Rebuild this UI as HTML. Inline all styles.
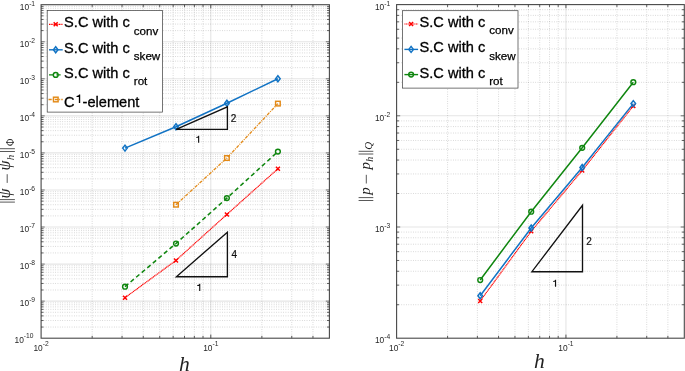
<!DOCTYPE html>
<html><head><meta charset="utf-8"><title>chart</title>
<style>html,body{margin:0;padding:0;background:#fff}svg{display:block;will-change:transform;-webkit-font-smoothing:antialiased}</style></head>
<body>
<svg width="685" height="371" viewBox="0 0 685 371" font-family="Liberation Sans, sans-serif">
<rect width="685" height="371" fill="#fff"/>
<line x1="92.18" y1="4.7" x2="92.18" y2="338.2" stroke="#262626" stroke-opacity="0.36" stroke-width="0.6" stroke-dasharray="0.8 1.55"/>
<line x1="122.06" y1="4.7" x2="122.06" y2="338.2" stroke="#262626" stroke-opacity="0.36" stroke-width="0.6" stroke-dasharray="0.8 1.55"/>
<line x1="143.26" y1="4.7" x2="143.26" y2="338.2" stroke="#262626" stroke-opacity="0.36" stroke-width="0.6" stroke-dasharray="0.8 1.55"/>
<line x1="159.71" y1="4.7" x2="159.71" y2="338.2" stroke="#262626" stroke-opacity="0.36" stroke-width="0.6" stroke-dasharray="0.8 1.55"/>
<line x1="173.15" y1="4.7" x2="173.15" y2="338.2" stroke="#262626" stroke-opacity="0.36" stroke-width="0.6" stroke-dasharray="0.8 1.55"/>
<line x1="184.51" y1="4.7" x2="184.51" y2="338.2" stroke="#262626" stroke-opacity="0.36" stroke-width="0.6" stroke-dasharray="0.8 1.55"/>
<line x1="194.35" y1="4.7" x2="194.35" y2="338.2" stroke="#262626" stroke-opacity="0.36" stroke-width="0.6" stroke-dasharray="0.8 1.55"/>
<line x1="203.03" y1="4.7" x2="203.03" y2="338.2" stroke="#262626" stroke-opacity="0.36" stroke-width="0.6" stroke-dasharray="0.8 1.55"/>
<line x1="261.87" y1="4.7" x2="261.87" y2="338.2" stroke="#262626" stroke-opacity="0.36" stroke-width="0.6" stroke-dasharray="0.8 1.55"/>
<line x1="291.75" y1="4.7" x2="291.75" y2="338.2" stroke="#262626" stroke-opacity="0.36" stroke-width="0.6" stroke-dasharray="0.8 1.55"/>
<line x1="312.96" y1="4.7" x2="312.96" y2="338.2" stroke="#262626" stroke-opacity="0.36" stroke-width="0.6" stroke-dasharray="0.8 1.55"/>
<line x1="41.1" y1="327.05" x2="329.4" y2="327.05" stroke="#262626" stroke-opacity="0.36" stroke-width="0.6" stroke-dasharray="0.8 1.55"/>
<line x1="41.1" y1="320.52" x2="329.4" y2="320.52" stroke="#262626" stroke-opacity="0.36" stroke-width="0.6" stroke-dasharray="0.8 1.55"/>
<line x1="41.1" y1="315.89" x2="329.4" y2="315.89" stroke="#262626" stroke-opacity="0.36" stroke-width="0.6" stroke-dasharray="0.8 1.55"/>
<line x1="41.1" y1="312.30" x2="329.4" y2="312.30" stroke="#262626" stroke-opacity="0.36" stroke-width="0.6" stroke-dasharray="0.8 1.55"/>
<line x1="41.1" y1="309.37" x2="329.4" y2="309.37" stroke="#262626" stroke-opacity="0.36" stroke-width="0.6" stroke-dasharray="0.8 1.55"/>
<line x1="41.1" y1="306.88" x2="329.4" y2="306.88" stroke="#262626" stroke-opacity="0.36" stroke-width="0.6" stroke-dasharray="0.8 1.55"/>
<line x1="41.1" y1="304.74" x2="329.4" y2="304.74" stroke="#262626" stroke-opacity="0.36" stroke-width="0.6" stroke-dasharray="0.8 1.55"/>
<line x1="41.1" y1="302.84" x2="329.4" y2="302.84" stroke="#262626" stroke-opacity="0.36" stroke-width="0.6" stroke-dasharray="0.8 1.55"/>
<line x1="41.1" y1="289.99" x2="329.4" y2="289.99" stroke="#262626" stroke-opacity="0.36" stroke-width="0.6" stroke-dasharray="0.8 1.55"/>
<line x1="41.1" y1="283.46" x2="329.4" y2="283.46" stroke="#262626" stroke-opacity="0.36" stroke-width="0.6" stroke-dasharray="0.8 1.55"/>
<line x1="41.1" y1="278.83" x2="329.4" y2="278.83" stroke="#262626" stroke-opacity="0.36" stroke-width="0.6" stroke-dasharray="0.8 1.55"/>
<line x1="41.1" y1="275.24" x2="329.4" y2="275.24" stroke="#262626" stroke-opacity="0.36" stroke-width="0.6" stroke-dasharray="0.8 1.55"/>
<line x1="41.1" y1="272.31" x2="329.4" y2="272.31" stroke="#262626" stroke-opacity="0.36" stroke-width="0.6" stroke-dasharray="0.8 1.55"/>
<line x1="41.1" y1="269.83" x2="329.4" y2="269.83" stroke="#262626" stroke-opacity="0.36" stroke-width="0.6" stroke-dasharray="0.8 1.55"/>
<line x1="41.1" y1="267.68" x2="329.4" y2="267.68" stroke="#262626" stroke-opacity="0.36" stroke-width="0.6" stroke-dasharray="0.8 1.55"/>
<line x1="41.1" y1="265.78" x2="329.4" y2="265.78" stroke="#262626" stroke-opacity="0.36" stroke-width="0.6" stroke-dasharray="0.8 1.55"/>
<line x1="41.1" y1="252.93" x2="329.4" y2="252.93" stroke="#262626" stroke-opacity="0.36" stroke-width="0.6" stroke-dasharray="0.8 1.55"/>
<line x1="41.1" y1="246.41" x2="329.4" y2="246.41" stroke="#262626" stroke-opacity="0.36" stroke-width="0.6" stroke-dasharray="0.8 1.55"/>
<line x1="41.1" y1="241.78" x2="329.4" y2="241.78" stroke="#262626" stroke-opacity="0.36" stroke-width="0.6" stroke-dasharray="0.8 1.55"/>
<line x1="41.1" y1="238.19" x2="329.4" y2="238.19" stroke="#262626" stroke-opacity="0.36" stroke-width="0.6" stroke-dasharray="0.8 1.55"/>
<line x1="41.1" y1="235.25" x2="329.4" y2="235.25" stroke="#262626" stroke-opacity="0.36" stroke-width="0.6" stroke-dasharray="0.8 1.55"/>
<line x1="41.1" y1="232.77" x2="329.4" y2="232.77" stroke="#262626" stroke-opacity="0.36" stroke-width="0.6" stroke-dasharray="0.8 1.55"/>
<line x1="41.1" y1="230.62" x2="329.4" y2="230.62" stroke="#262626" stroke-opacity="0.36" stroke-width="0.6" stroke-dasharray="0.8 1.55"/>
<line x1="41.1" y1="228.73" x2="329.4" y2="228.73" stroke="#262626" stroke-opacity="0.36" stroke-width="0.6" stroke-dasharray="0.8 1.55"/>
<line x1="41.1" y1="215.88" x2="329.4" y2="215.88" stroke="#262626" stroke-opacity="0.36" stroke-width="0.6" stroke-dasharray="0.8 1.55"/>
<line x1="41.1" y1="209.35" x2="329.4" y2="209.35" stroke="#262626" stroke-opacity="0.36" stroke-width="0.6" stroke-dasharray="0.8 1.55"/>
<line x1="41.1" y1="204.72" x2="329.4" y2="204.72" stroke="#262626" stroke-opacity="0.36" stroke-width="0.6" stroke-dasharray="0.8 1.55"/>
<line x1="41.1" y1="201.13" x2="329.4" y2="201.13" stroke="#262626" stroke-opacity="0.36" stroke-width="0.6" stroke-dasharray="0.8 1.55"/>
<line x1="41.1" y1="198.20" x2="329.4" y2="198.20" stroke="#262626" stroke-opacity="0.36" stroke-width="0.6" stroke-dasharray="0.8 1.55"/>
<line x1="41.1" y1="195.72" x2="329.4" y2="195.72" stroke="#262626" stroke-opacity="0.36" stroke-width="0.6" stroke-dasharray="0.8 1.55"/>
<line x1="41.1" y1="193.57" x2="329.4" y2="193.57" stroke="#262626" stroke-opacity="0.36" stroke-width="0.6" stroke-dasharray="0.8 1.55"/>
<line x1="41.1" y1="191.67" x2="329.4" y2="191.67" stroke="#262626" stroke-opacity="0.36" stroke-width="0.6" stroke-dasharray="0.8 1.55"/>
<line x1="41.1" y1="178.82" x2="329.4" y2="178.82" stroke="#262626" stroke-opacity="0.36" stroke-width="0.6" stroke-dasharray="0.8 1.55"/>
<line x1="41.1" y1="172.30" x2="329.4" y2="172.30" stroke="#262626" stroke-opacity="0.36" stroke-width="0.6" stroke-dasharray="0.8 1.55"/>
<line x1="41.1" y1="167.67" x2="329.4" y2="167.67" stroke="#262626" stroke-opacity="0.36" stroke-width="0.6" stroke-dasharray="0.8 1.55"/>
<line x1="41.1" y1="164.08" x2="329.4" y2="164.08" stroke="#262626" stroke-opacity="0.36" stroke-width="0.6" stroke-dasharray="0.8 1.55"/>
<line x1="41.1" y1="161.14" x2="329.4" y2="161.14" stroke="#262626" stroke-opacity="0.36" stroke-width="0.6" stroke-dasharray="0.8 1.55"/>
<line x1="41.1" y1="158.66" x2="329.4" y2="158.66" stroke="#262626" stroke-opacity="0.36" stroke-width="0.6" stroke-dasharray="0.8 1.55"/>
<line x1="41.1" y1="156.51" x2="329.4" y2="156.51" stroke="#262626" stroke-opacity="0.36" stroke-width="0.6" stroke-dasharray="0.8 1.55"/>
<line x1="41.1" y1="154.62" x2="329.4" y2="154.62" stroke="#262626" stroke-opacity="0.36" stroke-width="0.6" stroke-dasharray="0.8 1.55"/>
<line x1="41.1" y1="141.77" x2="329.4" y2="141.77" stroke="#262626" stroke-opacity="0.36" stroke-width="0.6" stroke-dasharray="0.8 1.55"/>
<line x1="41.1" y1="135.24" x2="329.4" y2="135.24" stroke="#262626" stroke-opacity="0.36" stroke-width="0.6" stroke-dasharray="0.8 1.55"/>
<line x1="41.1" y1="130.61" x2="329.4" y2="130.61" stroke="#262626" stroke-opacity="0.36" stroke-width="0.6" stroke-dasharray="0.8 1.55"/>
<line x1="41.1" y1="127.02" x2="329.4" y2="127.02" stroke="#262626" stroke-opacity="0.36" stroke-width="0.6" stroke-dasharray="0.8 1.55"/>
<line x1="41.1" y1="124.09" x2="329.4" y2="124.09" stroke="#262626" stroke-opacity="0.36" stroke-width="0.6" stroke-dasharray="0.8 1.55"/>
<line x1="41.1" y1="121.61" x2="329.4" y2="121.61" stroke="#262626" stroke-opacity="0.36" stroke-width="0.6" stroke-dasharray="0.8 1.55"/>
<line x1="41.1" y1="119.46" x2="329.4" y2="119.46" stroke="#262626" stroke-opacity="0.36" stroke-width="0.6" stroke-dasharray="0.8 1.55"/>
<line x1="41.1" y1="117.56" x2="329.4" y2="117.56" stroke="#262626" stroke-opacity="0.36" stroke-width="0.6" stroke-dasharray="0.8 1.55"/>
<line x1="41.1" y1="104.71" x2="329.4" y2="104.71" stroke="#262626" stroke-opacity="0.36" stroke-width="0.6" stroke-dasharray="0.8 1.55"/>
<line x1="41.1" y1="98.19" x2="329.4" y2="98.19" stroke="#262626" stroke-opacity="0.36" stroke-width="0.6" stroke-dasharray="0.8 1.55"/>
<line x1="41.1" y1="93.56" x2="329.4" y2="93.56" stroke="#262626" stroke-opacity="0.36" stroke-width="0.6" stroke-dasharray="0.8 1.55"/>
<line x1="41.1" y1="89.97" x2="329.4" y2="89.97" stroke="#262626" stroke-opacity="0.36" stroke-width="0.6" stroke-dasharray="0.8 1.55"/>
<line x1="41.1" y1="87.03" x2="329.4" y2="87.03" stroke="#262626" stroke-opacity="0.36" stroke-width="0.6" stroke-dasharray="0.8 1.55"/>
<line x1="41.1" y1="84.55" x2="329.4" y2="84.55" stroke="#262626" stroke-opacity="0.36" stroke-width="0.6" stroke-dasharray="0.8 1.55"/>
<line x1="41.1" y1="82.40" x2="329.4" y2="82.40" stroke="#262626" stroke-opacity="0.36" stroke-width="0.6" stroke-dasharray="0.8 1.55"/>
<line x1="41.1" y1="80.51" x2="329.4" y2="80.51" stroke="#262626" stroke-opacity="0.36" stroke-width="0.6" stroke-dasharray="0.8 1.55"/>
<line x1="41.1" y1="67.66" x2="329.4" y2="67.66" stroke="#262626" stroke-opacity="0.36" stroke-width="0.6" stroke-dasharray="0.8 1.55"/>
<line x1="41.1" y1="61.13" x2="329.4" y2="61.13" stroke="#262626" stroke-opacity="0.36" stroke-width="0.6" stroke-dasharray="0.8 1.55"/>
<line x1="41.1" y1="56.50" x2="329.4" y2="56.50" stroke="#262626" stroke-opacity="0.36" stroke-width="0.6" stroke-dasharray="0.8 1.55"/>
<line x1="41.1" y1="52.91" x2="329.4" y2="52.91" stroke="#262626" stroke-opacity="0.36" stroke-width="0.6" stroke-dasharray="0.8 1.55"/>
<line x1="41.1" y1="49.98" x2="329.4" y2="49.98" stroke="#262626" stroke-opacity="0.36" stroke-width="0.6" stroke-dasharray="0.8 1.55"/>
<line x1="41.1" y1="47.50" x2="329.4" y2="47.50" stroke="#262626" stroke-opacity="0.36" stroke-width="0.6" stroke-dasharray="0.8 1.55"/>
<line x1="41.1" y1="45.35" x2="329.4" y2="45.35" stroke="#262626" stroke-opacity="0.36" stroke-width="0.6" stroke-dasharray="0.8 1.55"/>
<line x1="41.1" y1="43.45" x2="329.4" y2="43.45" stroke="#262626" stroke-opacity="0.36" stroke-width="0.6" stroke-dasharray="0.8 1.55"/>
<line x1="41.1" y1="30.60" x2="329.4" y2="30.60" stroke="#262626" stroke-opacity="0.36" stroke-width="0.6" stroke-dasharray="0.8 1.55"/>
<line x1="41.1" y1="24.08" x2="329.4" y2="24.08" stroke="#262626" stroke-opacity="0.36" stroke-width="0.6" stroke-dasharray="0.8 1.55"/>
<line x1="41.1" y1="19.45" x2="329.4" y2="19.45" stroke="#262626" stroke-opacity="0.36" stroke-width="0.6" stroke-dasharray="0.8 1.55"/>
<line x1="41.1" y1="15.85" x2="329.4" y2="15.85" stroke="#262626" stroke-opacity="0.36" stroke-width="0.6" stroke-dasharray="0.8 1.55"/>
<line x1="41.1" y1="12.92" x2="329.4" y2="12.92" stroke="#262626" stroke-opacity="0.36" stroke-width="0.6" stroke-dasharray="0.8 1.55"/>
<line x1="41.1" y1="10.44" x2="329.4" y2="10.44" stroke="#262626" stroke-opacity="0.36" stroke-width="0.6" stroke-dasharray="0.8 1.55"/>
<line x1="41.1" y1="8.29" x2="329.4" y2="8.29" stroke="#262626" stroke-opacity="0.36" stroke-width="0.6" stroke-dasharray="0.8 1.55"/>
<line x1="41.1" y1="6.40" x2="329.4" y2="6.40" stroke="#262626" stroke-opacity="0.36" stroke-width="0.6" stroke-dasharray="0.8 1.55"/>
<line x1="210.79" y1="4.7" x2="210.79" y2="338.2" stroke="#262626" stroke-opacity="0.12" stroke-width="1.1"/>
<line x1="41.1" y1="301.14" x2="329.4" y2="301.14" stroke="#262626" stroke-opacity="0.12" stroke-width="1.1"/>
<line x1="41.1" y1="264.09" x2="329.4" y2="264.09" stroke="#262626" stroke-opacity="0.12" stroke-width="1.1"/>
<line x1="41.1" y1="227.03" x2="329.4" y2="227.03" stroke="#262626" stroke-opacity="0.12" stroke-width="1.1"/>
<line x1="41.1" y1="189.98" x2="329.4" y2="189.98" stroke="#262626" stroke-opacity="0.12" stroke-width="1.1"/>
<line x1="41.1" y1="152.92" x2="329.4" y2="152.92" stroke="#262626" stroke-opacity="0.12" stroke-width="1.1"/>
<line x1="41.1" y1="115.87" x2="329.4" y2="115.87" stroke="#262626" stroke-opacity="0.12" stroke-width="1.1"/>
<line x1="41.1" y1="78.81" x2="329.4" y2="78.81" stroke="#262626" stroke-opacity="0.12" stroke-width="1.1"/>
<line x1="41.1" y1="41.76" x2="329.4" y2="41.76" stroke="#262626" stroke-opacity="0.12" stroke-width="1.1"/>
<path d="M125.00 297.70L176.00 260.40L226.90 214.40L277.90 168.80" stroke="#ff0000" stroke-width="1.2" fill="none" stroke-dasharray="1.15 0.5"/>
<path d="M123.00 295.70L127.00 299.70M123.00 299.70L127.00 295.70" stroke="#ff0000" stroke-width="1.45" fill="none"/>
<path d="M174.00 258.40L178.00 262.40M174.00 262.40L178.00 258.40" stroke="#ff0000" stroke-width="1.45" fill="none"/>
<path d="M224.90 212.40L228.90 216.40M224.90 216.40L228.90 212.40" stroke="#ff0000" stroke-width="1.45" fill="none"/>
<path d="M275.90 166.80L279.90 170.80M275.90 170.80L279.90 166.80" stroke="#ff0000" stroke-width="1.45" fill="none"/>
<path d="M125.00 148.10L176.00 126.70L226.90 103.30L277.90 78.70" stroke="#1173c4" stroke-width="1.5" fill="none"/>
<path d="M125.00 145.10L127.30 148.10L125.00 151.10L122.70 148.10Z" stroke="#1173c4" stroke-width="1.45" fill="none"/>
<path d="M176.00 123.70L178.30 126.70L176.00 129.70L173.70 126.70Z" stroke="#1173c4" stroke-width="1.45" fill="none"/>
<path d="M226.90 100.30L229.20 103.30L226.90 106.30L224.60 103.30Z" stroke="#1173c4" stroke-width="1.45" fill="none"/>
<path d="M277.90 75.70L280.20 78.70L277.90 81.70L275.60 78.70Z" stroke="#1173c4" stroke-width="1.45" fill="none"/>
<path d="M125.00 286.70L176.00 243.50L226.90 198.10L277.90 151.60" stroke="#0f860f" stroke-width="1.55" fill="none" stroke-dasharray="4.3 3.0"/>
<circle cx="125.00" cy="286.70" r="2.40" stroke="#0f860f" stroke-width="1.45" fill="none"/>
<circle cx="176.00" cy="243.50" r="2.40" stroke="#0f860f" stroke-width="1.45" fill="none"/>
<circle cx="226.90" cy="198.10" r="2.40" stroke="#0f860f" stroke-width="1.45" fill="none"/>
<circle cx="277.90" cy="151.60" r="2.40" stroke="#0f860f" stroke-width="1.45" fill="none"/>
<path d="M176.00 204.70L226.90 158.00L277.90 103.60" stroke="#e38a17" stroke-width="1.3" fill="none" stroke-dasharray="3.2 1.1 1.0 1.1"/>
<rect x="173.70" y="202.40" width="4.60" height="4.60" stroke="#e38a17" stroke-width="1.45" fill="none"/>
<rect x="224.60" y="155.70" width="4.60" height="4.60" stroke="#e38a17" stroke-width="1.45" fill="none"/>
<rect x="275.60" y="101.30" width="4.60" height="4.60" stroke="#e38a17" stroke-width="1.45" fill="none"/>
<path d="M176.2 129.4H227.4V106.9Z" stroke="#111" stroke-width="1.35" fill="none" stroke-linejoin="miter"/>
<text x="233.6" y="121.7" font-size="10" text-anchor="middle" fill="#111" stroke="#111" stroke-width="0.2">2</text>
<path d="M199.20 142.80L199.20 135.70L198.40 135.70Q197.95 136.85 196.15 137.00L196.15 137.80L198.08 137.80L198.08 142.80Z" fill="#111"/>
<path d="M176.4 276.7H227.4V232.2Z" stroke="#111" stroke-width="1.35" fill="none"/>
<text x="234.2" y="257.5" font-size="10" text-anchor="middle" fill="#111" stroke="#111" stroke-width="0.2">4</text>
<path d="M200.30 290.90L200.30 283.80L199.50 283.80Q199.05 284.95 197.25 285.10L197.25 285.90L199.18 285.90L199.18 290.90Z" fill="#111"/>
<rect x="41.1" y="4.7" width="288.29999999999995" height="333.5" fill="none" stroke="#484848" stroke-width="1.1"/>
<path d="M210.79 338.2v-3.6M210.79 4.7v3.6" stroke="#3a3a3a" stroke-width="0.85"/>
<path d="M92.18 338.2v-2.4M92.18 4.7v2.4" stroke="#3a3a3a" stroke-width="0.8"/>
<path d="M122.06 338.2v-2.4M122.06 4.7v2.4" stroke="#3a3a3a" stroke-width="0.8"/>
<path d="M143.26 338.2v-2.4M143.26 4.7v2.4" stroke="#3a3a3a" stroke-width="0.8"/>
<path d="M159.71 338.2v-2.4M159.71 4.7v2.4" stroke="#3a3a3a" stroke-width="0.8"/>
<path d="M173.15 338.2v-2.4M173.15 4.7v2.4" stroke="#3a3a3a" stroke-width="0.8"/>
<path d="M184.51 338.2v-2.4M184.51 4.7v2.4" stroke="#3a3a3a" stroke-width="0.8"/>
<path d="M194.35 338.2v-2.4M194.35 4.7v2.4" stroke="#3a3a3a" stroke-width="0.8"/>
<path d="M203.03 338.2v-2.4M203.03 4.7v2.4" stroke="#3a3a3a" stroke-width="0.8"/>
<path d="M261.87 338.2v-2.4M261.87 4.7v2.4" stroke="#3a3a3a" stroke-width="0.8"/>
<path d="M291.75 338.2v-2.4M291.75 4.7v2.4" stroke="#3a3a3a" stroke-width="0.8"/>
<path d="M312.96 338.2v-2.4M312.96 4.7v2.4" stroke="#3a3a3a" stroke-width="0.8"/>
<path d="M41.1 301.14h3.6M329.4 301.14h-3.6" stroke="#3a3a3a" stroke-width="0.7"/>
<path d="M41.1 264.09h3.6M329.4 264.09h-3.6" stroke="#3a3a3a" stroke-width="0.7"/>
<path d="M41.1 227.03h3.6M329.4 227.03h-3.6" stroke="#3a3a3a" stroke-width="0.7"/>
<path d="M41.1 189.98h3.6M329.4 189.98h-3.6" stroke="#3a3a3a" stroke-width="0.7"/>
<path d="M41.1 152.92h3.6M329.4 152.92h-3.6" stroke="#3a3a3a" stroke-width="0.7"/>
<path d="M41.1 115.87h3.6M329.4 115.87h-3.6" stroke="#3a3a3a" stroke-width="0.7"/>
<path d="M41.1 78.81h3.6M329.4 78.81h-3.6" stroke="#3a3a3a" stroke-width="0.7"/>
<path d="M41.1 41.76h3.6M329.4 41.76h-3.6" stroke="#3a3a3a" stroke-width="0.7"/>
<path d="M41.1 327.05h2.4M329.4 327.05h-2.4" stroke="#3a3a3a" stroke-width="0.8"/>
<path d="M41.1 320.52h2.4M329.4 320.52h-2.4" stroke="#3a3a3a" stroke-width="0.8"/>
<path d="M41.1 315.89h2.4M329.4 315.89h-2.4" stroke="#3a3a3a" stroke-width="0.8"/>
<path d="M41.1 312.30h2.4M329.4 312.30h-2.4" stroke="#3a3a3a" stroke-width="0.8"/>
<path d="M41.1 309.37h2.4M329.4 309.37h-2.4" stroke="#3a3a3a" stroke-width="0.8"/>
<path d="M41.1 306.88h2.4M329.4 306.88h-2.4" stroke="#3a3a3a" stroke-width="0.8"/>
<path d="M41.1 304.74h2.4M329.4 304.74h-2.4" stroke="#3a3a3a" stroke-width="0.8"/>
<path d="M41.1 302.84h2.4M329.4 302.84h-2.4" stroke="#3a3a3a" stroke-width="0.8"/>
<path d="M41.1 289.99h2.4M329.4 289.99h-2.4" stroke="#3a3a3a" stroke-width="0.8"/>
<path d="M41.1 283.46h2.4M329.4 283.46h-2.4" stroke="#3a3a3a" stroke-width="0.8"/>
<path d="M41.1 278.83h2.4M329.4 278.83h-2.4" stroke="#3a3a3a" stroke-width="0.8"/>
<path d="M41.1 275.24h2.4M329.4 275.24h-2.4" stroke="#3a3a3a" stroke-width="0.8"/>
<path d="M41.1 272.31h2.4M329.4 272.31h-2.4" stroke="#3a3a3a" stroke-width="0.8"/>
<path d="M41.1 269.83h2.4M329.4 269.83h-2.4" stroke="#3a3a3a" stroke-width="0.8"/>
<path d="M41.1 267.68h2.4M329.4 267.68h-2.4" stroke="#3a3a3a" stroke-width="0.8"/>
<path d="M41.1 265.78h2.4M329.4 265.78h-2.4" stroke="#3a3a3a" stroke-width="0.8"/>
<path d="M41.1 252.93h2.4M329.4 252.93h-2.4" stroke="#3a3a3a" stroke-width="0.8"/>
<path d="M41.1 246.41h2.4M329.4 246.41h-2.4" stroke="#3a3a3a" stroke-width="0.8"/>
<path d="M41.1 241.78h2.4M329.4 241.78h-2.4" stroke="#3a3a3a" stroke-width="0.8"/>
<path d="M41.1 238.19h2.4M329.4 238.19h-2.4" stroke="#3a3a3a" stroke-width="0.8"/>
<path d="M41.1 235.25h2.4M329.4 235.25h-2.4" stroke="#3a3a3a" stroke-width="0.8"/>
<path d="M41.1 232.77h2.4M329.4 232.77h-2.4" stroke="#3a3a3a" stroke-width="0.8"/>
<path d="M41.1 230.62h2.4M329.4 230.62h-2.4" stroke="#3a3a3a" stroke-width="0.8"/>
<path d="M41.1 228.73h2.4M329.4 228.73h-2.4" stroke="#3a3a3a" stroke-width="0.8"/>
<path d="M41.1 215.88h2.4M329.4 215.88h-2.4" stroke="#3a3a3a" stroke-width="0.8"/>
<path d="M41.1 209.35h2.4M329.4 209.35h-2.4" stroke="#3a3a3a" stroke-width="0.8"/>
<path d="M41.1 204.72h2.4M329.4 204.72h-2.4" stroke="#3a3a3a" stroke-width="0.8"/>
<path d="M41.1 201.13h2.4M329.4 201.13h-2.4" stroke="#3a3a3a" stroke-width="0.8"/>
<path d="M41.1 198.20h2.4M329.4 198.20h-2.4" stroke="#3a3a3a" stroke-width="0.8"/>
<path d="M41.1 195.72h2.4M329.4 195.72h-2.4" stroke="#3a3a3a" stroke-width="0.8"/>
<path d="M41.1 193.57h2.4M329.4 193.57h-2.4" stroke="#3a3a3a" stroke-width="0.8"/>
<path d="M41.1 191.67h2.4M329.4 191.67h-2.4" stroke="#3a3a3a" stroke-width="0.8"/>
<path d="M41.1 178.82h2.4M329.4 178.82h-2.4" stroke="#3a3a3a" stroke-width="0.8"/>
<path d="M41.1 172.30h2.4M329.4 172.30h-2.4" stroke="#3a3a3a" stroke-width="0.8"/>
<path d="M41.1 167.67h2.4M329.4 167.67h-2.4" stroke="#3a3a3a" stroke-width="0.8"/>
<path d="M41.1 164.08h2.4M329.4 164.08h-2.4" stroke="#3a3a3a" stroke-width="0.8"/>
<path d="M41.1 161.14h2.4M329.4 161.14h-2.4" stroke="#3a3a3a" stroke-width="0.8"/>
<path d="M41.1 158.66h2.4M329.4 158.66h-2.4" stroke="#3a3a3a" stroke-width="0.8"/>
<path d="M41.1 156.51h2.4M329.4 156.51h-2.4" stroke="#3a3a3a" stroke-width="0.8"/>
<path d="M41.1 154.62h2.4M329.4 154.62h-2.4" stroke="#3a3a3a" stroke-width="0.8"/>
<path d="M41.1 141.77h2.4M329.4 141.77h-2.4" stroke="#3a3a3a" stroke-width="0.8"/>
<path d="M41.1 135.24h2.4M329.4 135.24h-2.4" stroke="#3a3a3a" stroke-width="0.8"/>
<path d="M41.1 130.61h2.4M329.4 130.61h-2.4" stroke="#3a3a3a" stroke-width="0.8"/>
<path d="M41.1 127.02h2.4M329.4 127.02h-2.4" stroke="#3a3a3a" stroke-width="0.8"/>
<path d="M41.1 124.09h2.4M329.4 124.09h-2.4" stroke="#3a3a3a" stroke-width="0.8"/>
<path d="M41.1 121.61h2.4M329.4 121.61h-2.4" stroke="#3a3a3a" stroke-width="0.8"/>
<path d="M41.1 119.46h2.4M329.4 119.46h-2.4" stroke="#3a3a3a" stroke-width="0.8"/>
<path d="M41.1 117.56h2.4M329.4 117.56h-2.4" stroke="#3a3a3a" stroke-width="0.8"/>
<path d="M41.1 104.71h2.4M329.4 104.71h-2.4" stroke="#3a3a3a" stroke-width="0.8"/>
<path d="M41.1 98.19h2.4M329.4 98.19h-2.4" stroke="#3a3a3a" stroke-width="0.8"/>
<path d="M41.1 93.56h2.4M329.4 93.56h-2.4" stroke="#3a3a3a" stroke-width="0.8"/>
<path d="M41.1 89.97h2.4M329.4 89.97h-2.4" stroke="#3a3a3a" stroke-width="0.8"/>
<path d="M41.1 87.03h2.4M329.4 87.03h-2.4" stroke="#3a3a3a" stroke-width="0.8"/>
<path d="M41.1 84.55h2.4M329.4 84.55h-2.4" stroke="#3a3a3a" stroke-width="0.8"/>
<path d="M41.1 82.40h2.4M329.4 82.40h-2.4" stroke="#3a3a3a" stroke-width="0.8"/>
<path d="M41.1 80.51h2.4M329.4 80.51h-2.4" stroke="#3a3a3a" stroke-width="0.8"/>
<path d="M41.1 67.66h2.4M329.4 67.66h-2.4" stroke="#3a3a3a" stroke-width="0.8"/>
<path d="M41.1 61.13h2.4M329.4 61.13h-2.4" stroke="#3a3a3a" stroke-width="0.8"/>
<path d="M41.1 56.50h2.4M329.4 56.50h-2.4" stroke="#3a3a3a" stroke-width="0.8"/>
<path d="M41.1 52.91h2.4M329.4 52.91h-2.4" stroke="#3a3a3a" stroke-width="0.8"/>
<path d="M41.1 49.98h2.4M329.4 49.98h-2.4" stroke="#3a3a3a" stroke-width="0.8"/>
<path d="M41.1 47.50h2.4M329.4 47.50h-2.4" stroke="#3a3a3a" stroke-width="0.8"/>
<path d="M41.1 45.35h2.4M329.4 45.35h-2.4" stroke="#3a3a3a" stroke-width="0.8"/>
<path d="M41.1 43.45h2.4M329.4 43.45h-2.4" stroke="#3a3a3a" stroke-width="0.8"/>
<path d="M41.1 30.60h2.4M329.4 30.60h-2.4" stroke="#3a3a3a" stroke-width="0.8"/>
<path d="M41.1 24.08h2.4M329.4 24.08h-2.4" stroke="#3a3a3a" stroke-width="0.8"/>
<path d="M41.1 19.45h2.4M329.4 19.45h-2.4" stroke="#3a3a3a" stroke-width="0.8"/>
<path d="M41.1 15.85h2.4M329.4 15.85h-2.4" stroke="#3a3a3a" stroke-width="0.8"/>
<path d="M41.1 12.92h2.4M329.4 12.92h-2.4" stroke="#3a3a3a" stroke-width="0.8"/>
<path d="M41.1 10.44h2.4M329.4 10.44h-2.4" stroke="#3a3a3a" stroke-width="0.8"/>
<path d="M41.1 8.29h2.4M329.4 8.29h-2.4" stroke="#3a3a3a" stroke-width="0.8"/>
<path d="M41.1 6.40h2.4M329.4 6.40h-2.4" stroke="#3a3a3a" stroke-width="0.8"/>
<text x="19.8" y="9.9" text-anchor="start" font-size="8.4" fill="#262626">10<tspan dy="-4.3" font-size="6.7">-1</tspan></text>
<text x="19.8" y="47.0" text-anchor="start" font-size="8.4" fill="#262626">10<tspan dy="-4.3" font-size="6.7">-2</tspan></text>
<text x="19.8" y="84.0" text-anchor="start" font-size="8.4" fill="#262626">10<tspan dy="-4.3" font-size="6.7">-3</tspan></text>
<text x="19.8" y="121.1" text-anchor="start" font-size="8.4" fill="#262626">10<tspan dy="-4.3" font-size="6.7">-4</tspan></text>
<text x="19.8" y="158.1" text-anchor="start" font-size="8.4" fill="#262626">10<tspan dy="-4.3" font-size="6.7">-5</tspan></text>
<text x="19.8" y="195.2" text-anchor="start" font-size="8.4" fill="#262626">10<tspan dy="-4.3" font-size="6.7">-6</tspan></text>
<text x="19.8" y="232.2" text-anchor="start" font-size="8.4" fill="#262626">10<tspan dy="-4.3" font-size="6.7">-7</tspan></text>
<text x="19.8" y="269.3" text-anchor="start" font-size="8.4" fill="#262626">10<tspan dy="-4.3" font-size="6.7">-8</tspan></text>
<text x="19.8" y="306.3" text-anchor="start" font-size="8.4" fill="#262626">10<tspan dy="-4.3" font-size="6.7">-9</tspan></text>
<text x="14.5" y="342.7" text-anchor="start" font-size="8.4" fill="#262626">10<tspan dy="-4.3" font-size="6.7">-10</tspan></text>
<text x="33.4" y="350.5" text-anchor="start" font-size="8.4" fill="#262626">10<tspan dy="-4.3" font-size="6.7">-2</tspan></text>
<text x="203.2" y="350.5" text-anchor="start" font-size="8.4" fill="#262626">10<tspan dy="-4.3" font-size="6.7">-1</tspan></text>
<rect x="47.2" y="10.6" width="115.4" height="101.5" fill="#fff" stroke="#3a3a3a" stroke-width="0.7"/>
<path d="M49.0 24.3h13.7" stroke="#ff0000" stroke-width="1.2" stroke-dasharray="1.15 0.5"/>
<path d="M53.70 22.30L57.70 26.30M53.70 26.30L57.70 22.30" stroke="#ff0000" stroke-width="1.45" fill="none"/>
<text x="64.1" y="27.3" font-size="14.6" fill="#000" stroke="#000" stroke-width="0.3">S.C with c</text>
<text x="133.8" y="34.7" font-size="11.6" fill="#000" stroke="#000" stroke-width="0.25">conv</text>
<path d="M49.0 49.8h13.7" stroke="#1173c4" stroke-width="1.4"/>
<path d="M55.70 46.80L58.00 49.80L55.70 52.80L53.40 49.80Z" stroke="#1173c4" stroke-width="1.45" fill="none"/>
<text x="64.1" y="52.8" font-size="14.6" fill="#000" stroke="#000" stroke-width="0.3">S.C with c</text>
<text x="133.8" y="60.199999999999996" font-size="11.6" fill="#000" stroke="#000" stroke-width="0.25">skew</text>
<path d="M49.0 74.9h13.7" stroke="#0f860f" stroke-width="1.4" stroke-dasharray="4.2 3.2"/>
<circle cx="55.70" cy="74.90" r="2.40" stroke="#0f860f" stroke-width="1.45" fill="none"/>
<text x="64.1" y="77.9" font-size="14.6" fill="#000" stroke="#000" stroke-width="0.3">S.C with c</text>
<text x="133.8" y="85.30000000000001" font-size="11.6" fill="#000" stroke="#000" stroke-width="0.25">rot</text>
<path d="M48.5 99.5h14.2" stroke="#e38a17" stroke-width="1.3" stroke-dasharray="3.2 1.1 1.0 1.1"/>
<rect x="53.50" y="97.20" width="4.60" height="4.60" stroke="#e38a17" stroke-width="1.45" fill="none"/>
<text x="64.1" y="107.4" font-size="14.6" fill="#000" stroke="#000" stroke-width="0.3">C</text>
<path d="M80.20 102.90L80.20 94.38L79.24 94.38Q78.70 95.76 76.54 95.94L76.54 96.90L78.86 96.90L78.86 102.90Z" fill="#000"/>
<text x="82.6" y="107.4" font-size="14.6" fill="#000" stroke="#000" stroke-width="0.3">-element</text>
<g transform="translate(11.4 204) rotate(-90)">
<path d="M1.9 -11.4V3.5M4.4 -11.4V3.5" stroke="#222" stroke-width="0.75" fill="none"/>
<text x="5.6" y="-1.1" font-family="Liberation Serif, serif" font-style="italic" font-size="16" fill="#222">ψ</text>
<path d="M21.1 -4.2H29.8" stroke="#222" stroke-width="0.75"/>
<text x="33.4" y="-1.1" font-family="Liberation Serif, serif" font-style="italic" font-size="16" fill="#222">ψ</text>
<text x="43.8" y="2.2" font-family="Liberation Serif, serif" font-style="italic" font-size="11" fill="#222">h</text>
<path d="M52.5 -11.4V3.5M55.3 -11.4V3.5" stroke="#222" stroke-width="0.75" fill="none"/>
<text transform="translate(57.9 2.4) scale(0.84 1)" font-family="Liberation Serif, serif" font-style="normal" font-size="12" fill="#222">Φ</text>
</g>
<text x="179.0" y="371.1" font-family="Liberation Serif, serif" font-style="italic" font-size="21.5" fill="#222">h</text>
<line x1="447.58" y1="4.6" x2="447.58" y2="338.2" stroke="#262626" stroke-opacity="0.36" stroke-width="0.6" stroke-dasharray="0.8 1.55"/>
<line x1="477.39" y1="4.6" x2="477.39" y2="338.2" stroke="#262626" stroke-opacity="0.36" stroke-width="0.6" stroke-dasharray="0.8 1.55"/>
<line x1="498.55" y1="4.6" x2="498.55" y2="338.2" stroke="#262626" stroke-opacity="0.36" stroke-width="0.6" stroke-dasharray="0.8 1.55"/>
<line x1="514.96" y1="4.6" x2="514.96" y2="338.2" stroke="#262626" stroke-opacity="0.36" stroke-width="0.6" stroke-dasharray="0.8 1.55"/>
<line x1="528.37" y1="4.6" x2="528.37" y2="338.2" stroke="#262626" stroke-opacity="0.36" stroke-width="0.6" stroke-dasharray="0.8 1.55"/>
<line x1="539.71" y1="4.6" x2="539.71" y2="338.2" stroke="#262626" stroke-opacity="0.36" stroke-width="0.6" stroke-dasharray="0.8 1.55"/>
<line x1="549.53" y1="4.6" x2="549.53" y2="338.2" stroke="#262626" stroke-opacity="0.36" stroke-width="0.6" stroke-dasharray="0.8 1.55"/>
<line x1="558.19" y1="4.6" x2="558.19" y2="338.2" stroke="#262626" stroke-opacity="0.36" stroke-width="0.6" stroke-dasharray="0.8 1.55"/>
<line x1="616.91" y1="4.6" x2="616.91" y2="338.2" stroke="#262626" stroke-opacity="0.36" stroke-width="0.6" stroke-dasharray="0.8 1.55"/>
<line x1="646.73" y1="4.6" x2="646.73" y2="338.2" stroke="#262626" stroke-opacity="0.36" stroke-width="0.6" stroke-dasharray="0.8 1.55"/>
<line x1="667.89" y1="4.6" x2="667.89" y2="338.2" stroke="#262626" stroke-opacity="0.36" stroke-width="0.6" stroke-dasharray="0.8 1.55"/>
<line x1="396.6" y1="304.73" x2="684.3" y2="304.73" stroke="#262626" stroke-opacity="0.36" stroke-width="0.6" stroke-dasharray="0.8 1.55"/>
<line x1="396.6" y1="285.14" x2="684.3" y2="285.14" stroke="#262626" stroke-opacity="0.36" stroke-width="0.6" stroke-dasharray="0.8 1.55"/>
<line x1="396.6" y1="271.25" x2="684.3" y2="271.25" stroke="#262626" stroke-opacity="0.36" stroke-width="0.6" stroke-dasharray="0.8 1.55"/>
<line x1="396.6" y1="260.47" x2="684.3" y2="260.47" stroke="#262626" stroke-opacity="0.36" stroke-width="0.6" stroke-dasharray="0.8 1.55"/>
<line x1="396.6" y1="251.67" x2="684.3" y2="251.67" stroke="#262626" stroke-opacity="0.36" stroke-width="0.6" stroke-dasharray="0.8 1.55"/>
<line x1="396.6" y1="244.23" x2="684.3" y2="244.23" stroke="#262626" stroke-opacity="0.36" stroke-width="0.6" stroke-dasharray="0.8 1.55"/>
<line x1="396.6" y1="237.78" x2="684.3" y2="237.78" stroke="#262626" stroke-opacity="0.36" stroke-width="0.6" stroke-dasharray="0.8 1.55"/>
<line x1="396.6" y1="232.09" x2="684.3" y2="232.09" stroke="#262626" stroke-opacity="0.36" stroke-width="0.6" stroke-dasharray="0.8 1.55"/>
<line x1="396.6" y1="193.53" x2="684.3" y2="193.53" stroke="#262626" stroke-opacity="0.36" stroke-width="0.6" stroke-dasharray="0.8 1.55"/>
<line x1="396.6" y1="173.94" x2="684.3" y2="173.94" stroke="#262626" stroke-opacity="0.36" stroke-width="0.6" stroke-dasharray="0.8 1.55"/>
<line x1="396.6" y1="160.05" x2="684.3" y2="160.05" stroke="#262626" stroke-opacity="0.36" stroke-width="0.6" stroke-dasharray="0.8 1.55"/>
<line x1="396.6" y1="149.27" x2="684.3" y2="149.27" stroke="#262626" stroke-opacity="0.36" stroke-width="0.6" stroke-dasharray="0.8 1.55"/>
<line x1="396.6" y1="140.47" x2="684.3" y2="140.47" stroke="#262626" stroke-opacity="0.36" stroke-width="0.6" stroke-dasharray="0.8 1.55"/>
<line x1="396.6" y1="133.03" x2="684.3" y2="133.03" stroke="#262626" stroke-opacity="0.36" stroke-width="0.6" stroke-dasharray="0.8 1.55"/>
<line x1="396.6" y1="126.58" x2="684.3" y2="126.58" stroke="#262626" stroke-opacity="0.36" stroke-width="0.6" stroke-dasharray="0.8 1.55"/>
<line x1="396.6" y1="120.89" x2="684.3" y2="120.89" stroke="#262626" stroke-opacity="0.36" stroke-width="0.6" stroke-dasharray="0.8 1.55"/>
<line x1="396.6" y1="82.33" x2="684.3" y2="82.33" stroke="#262626" stroke-opacity="0.36" stroke-width="0.6" stroke-dasharray="0.8 1.55"/>
<line x1="396.6" y1="62.74" x2="684.3" y2="62.74" stroke="#262626" stroke-opacity="0.36" stroke-width="0.6" stroke-dasharray="0.8 1.55"/>
<line x1="396.6" y1="48.85" x2="684.3" y2="48.85" stroke="#262626" stroke-opacity="0.36" stroke-width="0.6" stroke-dasharray="0.8 1.55"/>
<line x1="396.6" y1="38.07" x2="684.3" y2="38.07" stroke="#262626" stroke-opacity="0.36" stroke-width="0.6" stroke-dasharray="0.8 1.55"/>
<line x1="396.6" y1="29.27" x2="684.3" y2="29.27" stroke="#262626" stroke-opacity="0.36" stroke-width="0.6" stroke-dasharray="0.8 1.55"/>
<line x1="396.6" y1="21.83" x2="684.3" y2="21.83" stroke="#262626" stroke-opacity="0.36" stroke-width="0.6" stroke-dasharray="0.8 1.55"/>
<line x1="396.6" y1="15.38" x2="684.3" y2="15.38" stroke="#262626" stroke-opacity="0.36" stroke-width="0.6" stroke-dasharray="0.8 1.55"/>
<line x1="396.6" y1="9.69" x2="684.3" y2="9.69" stroke="#262626" stroke-opacity="0.36" stroke-width="0.6" stroke-dasharray="0.8 1.55"/>
<line x1="565.94" y1="4.6" x2="565.94" y2="338.2" stroke="#262626" stroke-opacity="0.12" stroke-width="1.1"/>
<line x1="396.6" y1="227.00" x2="684.3" y2="227.00" stroke="#262626" stroke-opacity="0.12" stroke-width="1.1"/>
<line x1="396.6" y1="115.80" x2="684.3" y2="115.80" stroke="#262626" stroke-opacity="0.12" stroke-width="1.1"/>
<path d="M480.20 301.00L531.20 231.30L582.20 170.50L633.30 105.90" stroke="#ff0000" stroke-width="1.2" fill="none" stroke-dasharray="1.15 0.5"/>
<path d="M478.20 299.00L482.20 303.00M478.20 303.00L482.20 299.00" stroke="#ff0000" stroke-width="1.45" fill="none"/>
<path d="M529.20 229.30L533.20 233.30M529.20 233.30L533.20 229.30" stroke="#ff0000" stroke-width="1.45" fill="none"/>
<path d="M580.20 168.50L584.20 172.50M580.20 172.50L584.20 168.50" stroke="#ff0000" stroke-width="1.45" fill="none"/>
<path d="M631.30 103.90L635.30 107.90M631.30 107.90L635.30 103.90" stroke="#ff0000" stroke-width="1.45" fill="none"/>
<path d="M480.20 295.70L531.20 228.00L582.20 167.50L633.30 103.60" stroke="#1173c4" stroke-width="1.5" fill="none"/>
<path d="M480.20 292.70L482.50 295.70L480.20 298.70L477.90 295.70Z" stroke="#1173c4" stroke-width="1.45" fill="none"/>
<path d="M531.20 225.00L533.50 228.00L531.20 231.00L528.90 228.00Z" stroke="#1173c4" stroke-width="1.45" fill="none"/>
<path d="M582.20 164.50L584.50 167.50L582.20 170.50L579.90 167.50Z" stroke="#1173c4" stroke-width="1.45" fill="none"/>
<path d="M633.30 100.60L635.60 103.60L633.30 106.60L631.00 103.60Z" stroke="#1173c4" stroke-width="1.45" fill="none"/>
<path d="M480.20 280.00L531.20 211.70L582.20 147.80L633.30 82.20" stroke="#0f860f" stroke-width="1.5" fill="none"/>
<circle cx="480.20" cy="280.00" r="2.40" stroke="#0f860f" stroke-width="1.45" fill="none"/>
<circle cx="531.20" cy="211.70" r="2.40" stroke="#0f860f" stroke-width="1.45" fill="none"/>
<circle cx="582.20" cy="147.80" r="2.40" stroke="#0f860f" stroke-width="1.45" fill="none"/>
<circle cx="633.30" cy="82.20" r="2.40" stroke="#0f860f" stroke-width="1.45" fill="none"/>
<path d="M531.9 271.7H582.5V205.3Z" stroke="#111" stroke-width="1.35" fill="none"/>
<text x="589" y="245.1" font-size="10" text-anchor="middle" fill="#111" stroke="#111" stroke-width="0.2">2</text>
<path d="M556.10 286.80L556.10 279.70L555.30 279.70Q554.85 280.85 553.05 281.00L553.05 281.80L554.98 281.80L554.98 286.80Z" fill="#111"/>
<rect x="396.6" y="4.6" width="287.69999999999993" height="333.59999999999997" fill="none" stroke="#484848" stroke-width="1.1"/>
<path d="M565.94 338.2v-3.6M565.94 4.6v3.6" stroke="#3a3a3a" stroke-width="0.85"/>
<path d="M447.58 338.2v-2.4M447.58 4.6v2.4" stroke="#3a3a3a" stroke-width="0.8"/>
<path d="M477.39 338.2v-2.4M477.39 4.6v2.4" stroke="#3a3a3a" stroke-width="0.8"/>
<path d="M498.55 338.2v-2.4M498.55 4.6v2.4" stroke="#3a3a3a" stroke-width="0.8"/>
<path d="M514.96 338.2v-2.4M514.96 4.6v2.4" stroke="#3a3a3a" stroke-width="0.8"/>
<path d="M528.37 338.2v-2.4M528.37 4.6v2.4" stroke="#3a3a3a" stroke-width="0.8"/>
<path d="M539.71 338.2v-2.4M539.71 4.6v2.4" stroke="#3a3a3a" stroke-width="0.8"/>
<path d="M549.53 338.2v-2.4M549.53 4.6v2.4" stroke="#3a3a3a" stroke-width="0.8"/>
<path d="M558.19 338.2v-2.4M558.19 4.6v2.4" stroke="#3a3a3a" stroke-width="0.8"/>
<path d="M616.91 338.2v-2.4M616.91 4.6v2.4" stroke="#3a3a3a" stroke-width="0.8"/>
<path d="M646.73 338.2v-2.4M646.73 4.6v2.4" stroke="#3a3a3a" stroke-width="0.8"/>
<path d="M667.89 338.2v-2.4M667.89 4.6v2.4" stroke="#3a3a3a" stroke-width="0.8"/>
<path d="M396.6 227.00h3.6M684.3 227.00h-3.6" stroke="#3a3a3a" stroke-width="0.7"/>
<path d="M396.6 115.80h3.6M684.3 115.80h-3.6" stroke="#3a3a3a" stroke-width="0.7"/>
<path d="M396.6 304.73h2.4M684.3 304.73h-2.4" stroke="#3a3a3a" stroke-width="0.8"/>
<path d="M396.6 285.14h2.4M684.3 285.14h-2.4" stroke="#3a3a3a" stroke-width="0.8"/>
<path d="M396.6 271.25h2.4M684.3 271.25h-2.4" stroke="#3a3a3a" stroke-width="0.8"/>
<path d="M396.6 260.47h2.4M684.3 260.47h-2.4" stroke="#3a3a3a" stroke-width="0.8"/>
<path d="M396.6 251.67h2.4M684.3 251.67h-2.4" stroke="#3a3a3a" stroke-width="0.8"/>
<path d="M396.6 244.23h2.4M684.3 244.23h-2.4" stroke="#3a3a3a" stroke-width="0.8"/>
<path d="M396.6 237.78h2.4M684.3 237.78h-2.4" stroke="#3a3a3a" stroke-width="0.8"/>
<path d="M396.6 232.09h2.4M684.3 232.09h-2.4" stroke="#3a3a3a" stroke-width="0.8"/>
<path d="M396.6 193.53h2.4M684.3 193.53h-2.4" stroke="#3a3a3a" stroke-width="0.8"/>
<path d="M396.6 173.94h2.4M684.3 173.94h-2.4" stroke="#3a3a3a" stroke-width="0.8"/>
<path d="M396.6 160.05h2.4M684.3 160.05h-2.4" stroke="#3a3a3a" stroke-width="0.8"/>
<path d="M396.6 149.27h2.4M684.3 149.27h-2.4" stroke="#3a3a3a" stroke-width="0.8"/>
<path d="M396.6 140.47h2.4M684.3 140.47h-2.4" stroke="#3a3a3a" stroke-width="0.8"/>
<path d="M396.6 133.03h2.4M684.3 133.03h-2.4" stroke="#3a3a3a" stroke-width="0.8"/>
<path d="M396.6 126.58h2.4M684.3 126.58h-2.4" stroke="#3a3a3a" stroke-width="0.8"/>
<path d="M396.6 120.89h2.4M684.3 120.89h-2.4" stroke="#3a3a3a" stroke-width="0.8"/>
<path d="M396.6 82.33h2.4M684.3 82.33h-2.4" stroke="#3a3a3a" stroke-width="0.8"/>
<path d="M396.6 62.74h2.4M684.3 62.74h-2.4" stroke="#3a3a3a" stroke-width="0.8"/>
<path d="M396.6 48.85h2.4M684.3 48.85h-2.4" stroke="#3a3a3a" stroke-width="0.8"/>
<path d="M396.6 38.07h2.4M684.3 38.07h-2.4" stroke="#3a3a3a" stroke-width="0.8"/>
<path d="M396.6 29.27h2.4M684.3 29.27h-2.4" stroke="#3a3a3a" stroke-width="0.8"/>
<path d="M396.6 21.83h2.4M684.3 21.83h-2.4" stroke="#3a3a3a" stroke-width="0.8"/>
<path d="M396.6 15.38h2.4M684.3 15.38h-2.4" stroke="#3a3a3a" stroke-width="0.8"/>
<path d="M396.6 9.69h2.4M684.3 9.69h-2.4" stroke="#3a3a3a" stroke-width="0.8"/>
<text x="374.9" y="9.8" text-anchor="start" font-size="8.4" fill="#262626">10<tspan dy="-4.3" font-size="6.7">-1</tspan></text>
<text x="374.9" y="121.0" text-anchor="start" font-size="8.4" fill="#262626">10<tspan dy="-4.3" font-size="6.7">-2</tspan></text>
<text x="374.9" y="232.2" text-anchor="start" font-size="8.4" fill="#262626">10<tspan dy="-4.3" font-size="6.7">-3</tspan></text>
<text x="374.9" y="343.4" text-anchor="start" font-size="8.4" fill="#262626">10<tspan dy="-4.3" font-size="6.7">-4</tspan></text>
<text x="389.0" y="350.5" text-anchor="start" font-size="8.4" fill="#262626">10<tspan dy="-4.3" font-size="6.7">-2</tspan></text>
<text x="558.3" y="350.5" text-anchor="start" font-size="8.4" fill="#262626">10<tspan dy="-4.3" font-size="6.7">-1</tspan></text>
<rect x="402.5" y="10.7" width="115.5" height="77.4" fill="#fff" stroke="#3a3a3a" stroke-width="0.7"/>
<path d="M404.4 24.0h13.7" stroke="#ff0000" stroke-width="1.2" stroke-dasharray="1.15 0.5"/>
<path d="M409.10 22.00L413.10 26.00M409.10 26.00L413.10 22.00" stroke="#ff0000" stroke-width="1.45" fill="none"/>
<text x="419.5" y="27.0" font-size="14.6" fill="#000" stroke="#000" stroke-width="0.3">S.C with c</text>
<text x="489.2" y="34.4" font-size="11.6" fill="#000" stroke="#000" stroke-width="0.25">conv</text>
<path d="M404.4 49.4h13.7" stroke="#1173c4" stroke-width="1.4"/>
<path d="M411.10 46.40L413.40 49.40L411.10 52.40L408.80 49.40Z" stroke="#1173c4" stroke-width="1.45" fill="none"/>
<text x="419.5" y="52.4" font-size="14.6" fill="#000" stroke="#000" stroke-width="0.3">S.C with c</text>
<text x="489.2" y="59.8" font-size="11.6" fill="#000" stroke="#000" stroke-width="0.25">skew</text>
<path d="M404.4 74.6h13.7" stroke="#0f860f" stroke-width="1.4"/>
<circle cx="411.10" cy="74.60" r="2.40" stroke="#0f860f" stroke-width="1.45" fill="none"/>
<text x="419.5" y="77.6" font-size="14.6" fill="#000" stroke="#000" stroke-width="0.3">S.C with c</text>
<text x="489.2" y="85.0" font-size="11.6" fill="#000" stroke="#000" stroke-width="0.25">rot</text>
<g transform="translate(369.6 202.3) rotate(-90)">
<path d="M1.8 -11.0V3.7M4.7 -11.0V3.7" stroke="#222" stroke-width="0.75" fill="none"/>
<text x="7.5" y="0" font-family="Liberation Serif, serif" font-style="italic" font-size="15" fill="#222">p</text>
<path d="M18.8 -3.3H27.5" stroke="#222" stroke-width="0.75"/>
<text x="32.7" y="0" font-family="Liberation Serif, serif" font-style="italic" font-size="15" fill="#222">p</text>
<text x="40.6" y="3.3" font-family="Liberation Serif, serif" font-style="italic" font-size="10" fill="#222">h</text>
<path d="M48.3 -11.0V3.7M51.0 -11.0V3.7" stroke="#222" stroke-width="0.75" fill="none"/>
<text x="52.6" y="2.4" font-family="Liberation Serif, serif" font-style="italic" font-size="11" fill="#222">Q</text>
</g>
<text x="534.1" y="367.9" font-family="Liberation Serif, serif" font-style="italic" font-size="21.5" fill="#222">h</text>
</svg>
</body></html>
